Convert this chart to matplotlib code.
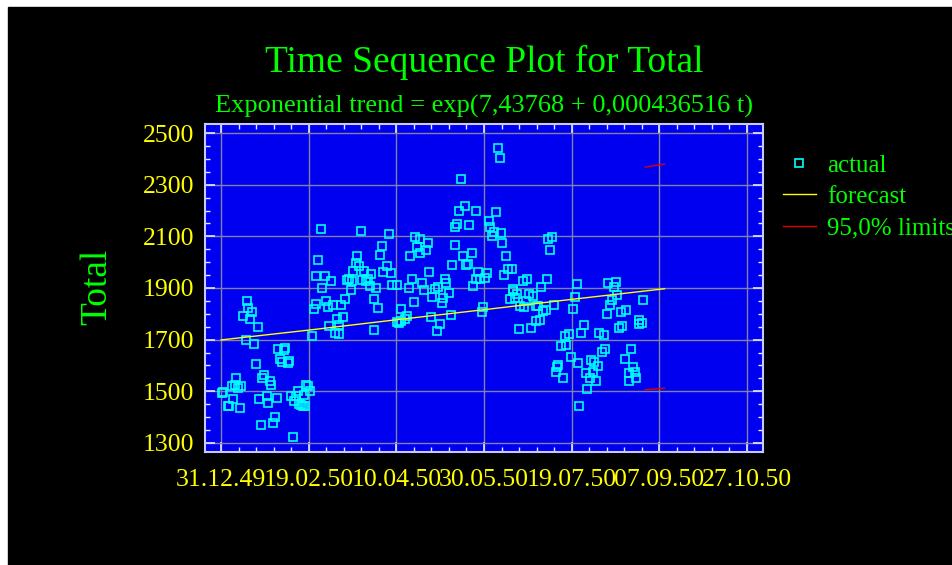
import numpy as np
import matplotlib
matplotlib.use('Agg')
import matplotlib.pyplot as plt
from matplotlib.ticker import MultipleLocator, FixedLocator

# days counted from 31.12.49
days = [56.9, 80.1, 95.7, 92.0, 90.9, 77.8, 55.5, 76.7, 78.9, 94.7, 75.5, 81.4, 92.6, 96.8, 85.8,
        54.4, 59.0, 62.6, 71.9, 73.1, 74.6, 80.5, 82.6, 83.7, 57.8, 73.9, 85.0, 88.5, 97.6, 100.3,
        15.0, 54.0, 60.0, 63.7, 61.0, 52.9, 15.6, 17.9, 12.7, 16.6, 70.8, 68.5, 87.0, 89.8, 66.0,
        69.8, 61.5, 67.5, 64.9, 67.0, 87.5, 100.2, 101.6, 20.9, 51.7, 14.1, 18.8, 32.7, 35.6, 36.7,
        33.8, 34.6, 38.0, 39.0, 20.0, 8.6, 24.7, 23.6, 28.0, 28.7, 6.1, 8.0, 9.5, 11.6, 1.3,
        0.7, 48.5, 49.8, 50.8, 43.6, 7.0, 21.5, 25.9, 27.0, 31.8, 39.8, 41.8, 42.8, 47.3, 44.5,
        45.7, 46.6, 47.8, 3.8, 4.7, 10.8, 30.8, 22.7, 29.7, 41.1,
        157.9, 158.9, 136.8, 138.9, 135.8, 145.2, 157.0, 153.1, 153.7, 134.7, 133.7, 141.7, 155.8, 159.6, 154.8,
        110.7, 113.2, 117.8, 111.9, 113.6, 116.8, 133.2, 160.5, 186.8, 188.9, 187.8, 107.7, 137.9, 142.9, 162.8,
        132.0, 139.7, 140.6, 118.9, 163.8, 166.1, 146.5, 151.8, 161.5, 108.7, 114.7, 127.5, 128.6, 145.3, 147.6,
        150.8, 172.0, 174.8, 186.2, 182.8, 203.0, 144.0, 107.3, 115.7, 121.8, 124.0, 166.7,
        109.8, 120.6, 129.8, 126.5, 126.0, 102.9, 105.8, 104.8, 102.7, 120.0, 130.9, 125.0, 122.9, 149.7, 148.8,
        166.8, 168.8, 167.6, 165.0, 175.8, 177.9, 173.7, 170.8, 173.1, 179.4, 180.9, 189.9, 183.8, 185.1, 202.0,
        200.7, 179.4, 181.9, 169.8, 177.1, 196.1, 198.6, 193.7, 196.9, 199.8, 192.0, 191.5, 191.0, 194.8, 203.6,
        204.3, 220.9, 225.3, 223.9,
        225.8, 223.0, 222.0, 241.0, 220.0, 227.9, 231.2, 238.2, 239.9, 238.6, 228.9, 226.8, 206.8, 215.9, 218.2,
        205.6, 233.8, 219.3, 217.3, 230.2, 211.0, 212.5, 215.0, 235.0, 236.1, 232.5, 237.0, 232.9, 208.2, 212.2,
        210.2, 213.9, 209.0]
total = [2127, 2120, 2109, 2062, 2028, 2025, 2008, 1996, 1986, 1984, 1966, 1964, 1962, 1958, 1956,
         1946, 1946, 1926, 1930, 1934, 1926, 1930, 1927, 1935, 1899, 1893, 1909, 1899, 1913, 1913,
         1850, 1839, 1850, 1835, 1828, 1818, 1822, 1809, 1792, 1781, 1857, 1835, 1857, 1822, 1781,
         1787, 1751, 1755, 1725, 1722, 1738, 1770, 1766, 1748, 1715, 1697, 1683, 1663, 1661, 1667,
         1627, 1615, 1610, 1617, 1605, 1553, 1565, 1551, 1541, 1524, 1519, 1526, 1512, 1521, 1499,
         1495, 1525, 1519, 1502, 1502, 1470, 1470, 1483, 1456, 1474, 1483, 1463, 1480, 1487, 1452,
         1447, 1445, 1445, 1445, 1445, 1434, 1400, 1371, 1376, 1323,
         2441, 2402, 2321, 2219, 2197, 2197, 2193, 2161, 2138, 2147, 2135, 2143, 2118, 2112, 2102,
         2096, 2089, 2073, 2058, 2035, 2047, 2066, 2073, 2089, 2098, 2047, 2022, 2025, 2036, 2025,
         1988, 1988, 1991, 1962, 1973, 1974, 1962, 1960, 1950, 1934, 1920, 1935, 1920, 1935, 1934,
         1938, 1928, 1934, 1934, 1905, 1916, 1909, 1899, 1894, 1898, 1904, 1897,
         1846, 1866, 1880, 1861, 1842, 1818, 1793, 1779, 1772, 1788, 1795, 1762, 1733, 1828, 1806,
         1890, 1877, 1861, 1858, 1875, 1870, 1851, 1830, 1828, 1831, 1832, 1835, 1811, 1813, 1864,
         1820, 1773, 1777, 1741, 1744, 1715, 1721, 1676, 1680, 1634, 1600, 1594, 1573, 1553, 1609,
         1444, 1920, 1924, 1905,
         1873, 1854, 1835, 1854, 1799, 1806, 1813, 1777, 1766, 1760, 1751, 1745, 1755, 1725, 1719,
         1725, 1663, 1663, 1652, 1626, 1622, 1614, 1598, 1594, 1576, 1569, 1553, 1540, 1572, 1576,
         1551, 1540, 1510]

trend_days = [0, 50, 100, 150, 200, 253]
trend_vals = [1699, 1737, 1777, 1816, 1856, 1897]

lim_days = [242, 253]
upper_lim = [2368, 2380]
lower_lim = [1506, 1512]

tick_days = [0, 50, 100, 150, 200, 250, 300]
tick_labels = ['31.12.49', '19.02.50', '10.04.50', '30.05.50', '19.07.50', '07.09.50', '27.10.50']
y_ticks = [1300, 1500, 1700, 1900, 2100, 2300, 2500]

plt.rcParams['font.family'] = ['Liberation Serif', 'DejaVu Serif']

W, H = 952, 565
fig = plt.figure(figsize=(W / 100, H / 100), dpi=100)
fig.patch.set_facecolor('white')
fig.add_artist(plt.Rectangle((8 / W, 0), 1 - 8 / W, 1 - 7 / H, transform=fig.transFigure,
                             color='black', zorder=-10))

ax = fig.add_axes([205 / W, 1 - 452 / H, 558 / W, 328 / H])
ax.set_facecolor('#0000f0')

ax.plot(days, total, ls='none', marker='s', ms=6.3, mfc='none', mec='#00ffff', mew=1.2,
        label='actual', zorder=3)
ax.plot(trend_days, trend_vals, color='#ffff00', lw=1, label='forecast', zorder=4)
ax.plot(lim_days, upper_lim, color='#dd0000', lw=1, label='95,0% limits', zorder=4)
ax.plot(lim_days, lower_lim, color='#dd0000', lw=1, zorder=4)

ax.set_xlim(-9.2, 309.2)
ax.set_ylim(1265, 2535)
ax.xaxis.set_major_locator(FixedLocator(tick_days))
ax.set_xticklabels(tick_labels)
ax.xaxis.set_minor_locator(MultipleLocator(10))
ax.yaxis.set_major_locator(FixedLocator(y_ticks))
ax.yaxis.set_minor_locator(MultipleLocator(50))

ax.grid(True, which='major', color='#8080a8', lw=1)
ax.set_axisbelow(True)
for s in ax.spines.values():
    s.set_color('#c8c8ff')
    s.set_linewidth(1.5)
ax.tick_params(which='both', direction='in', top=True, right=True, color='#e8e8ff',
               labelcolor='yellow', labelsize=18.5)
ax.tick_params(which='major', length=7, width=1.2)
ax.tick_params(which='minor', length=3.5, width=1)
ax.tick_params(axis='x', pad=12)
ax.tick_params(axis='y', pad=8)

leg = ax.legend(loc='upper left', bbox_to_anchor=(783 / W, 1 - 154 / H), bbox_transform=fig.transFigure,
                frameon=False, fontsize=18, handlelength=1.3, handletextpad=0.45,
                labelspacing=0.36, borderpad=0, borderaxespad=0)
for t in leg.get_texts():
    t.set_color('#00ff00')

fig.text(484 / W, 1 - 72 / H, 'Time Sequence Plot for Total', ha='center', va='baseline',
         fontsize=27, color='#00ff00')
fig.text(484 / W, 1 - 113 / H, 'Exponential trend = exp(7,43768 + 0,000436516 t)', ha='center',
         va='baseline', fontsize=19, color='#00ff00')
fig.text(97 / W, 1 - 287 / H, 'Total', rotation=90, ha='center', va='center',
         fontsize=27, color='#00ff00')

fig.savefig('out.png', dpi=100, facecolor=fig.get_facecolor())
